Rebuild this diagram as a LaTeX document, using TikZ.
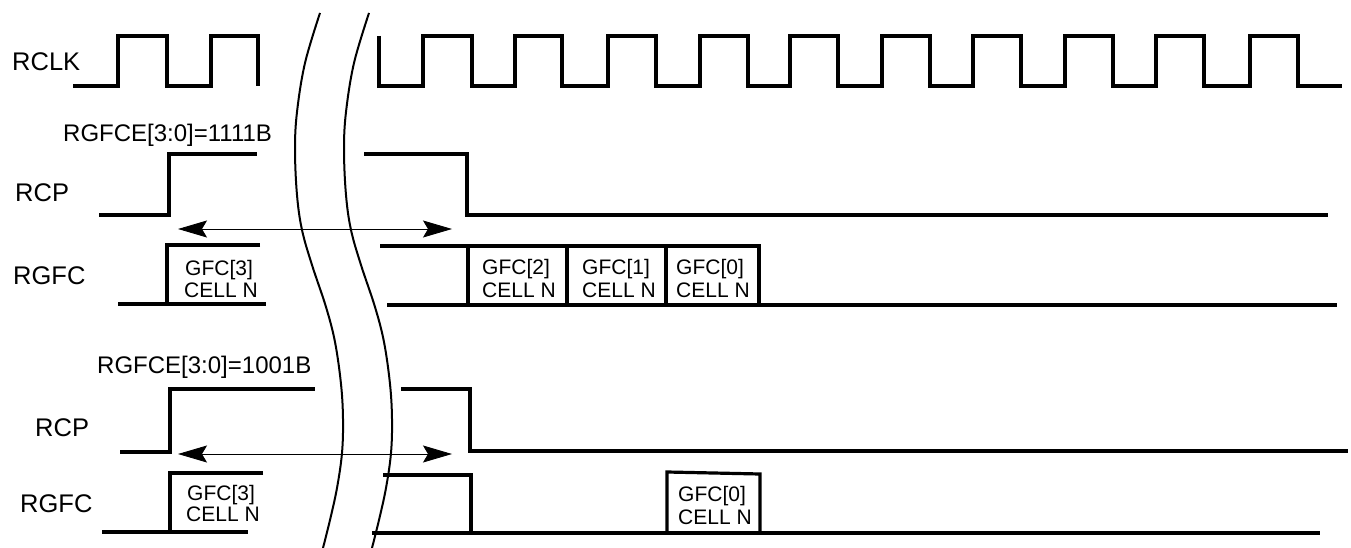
\documentclass[tikz,border=0pt]{standalone}
\usepackage{fontspec}
\setmainfont{Liberation Sans}
\usetikzlibrary{arrows.meta}
\begin{document}
\begin{tikzpicture}[x=1pt,y=-1pt,
  wave/.style={line width=3.2pt, line join=miter},
  brk/.style={line width=2pt},
  span/.style={line width=0.9pt, {Stealth[length=29pt,width=17pt,inset=5pt]}-{Stealth[length=29pt,width=17pt,inset=5pt]}},
  sig/.style={anchor=base west, inner sep=0pt, font=\fontsize{25.5}{30}\selectfont},
  cfg/.style={anchor=base west, inner sep=0pt, font=\fontsize{24}{28}\selectfont},
  cell/.style={anchor=base west, inner sep=0pt, font=\fontsize{21}{23}\selectfont},
]
\useasboundingbox (0,0) rectangle (1351,548);

% ---------- labels ----------
\node[sig] (rclk) at (12,71) {RCLK};
\node[cfg] (cfg1) at (63,142) {RGFCE[3:0]=1111B};
\node[sig] (rcp1) at (15,201) {RCP};
\node[sig] (rgfc1) at (13,284) {RGFC};
\node[cfg] (cfg2) at (97,373) {RGFCE[3:0]=1001B};
\node[sig] (rcp2) at (35,436) {RCP};
\node[sig] (rgfc2) at (20,512) {RGFC};

% ---------- RCLK ----------
\draw[wave] (73,86) -- (118,86) -- (118,36) -- (167,36) -- (167,86) -- (211,86) -- (211,36) -- (258,36) -- (258,86);
\draw[wave] (379,36) -- (379,86)
  -- (423,86) -- (423,36) -- (472,36) -- (472,86)
  -- (515,86) -- (515,36) -- (562,36) -- (562,86)
  -- (608,86) -- (608,36) -- (656,36) -- (656,86)
  -- (700,86) -- (700,36) -- (748,36) -- (748,86)
  -- (790,86) -- (790,36) -- (838,36) -- (838,86)
  -- (882,86) -- (882,36) -- (930,36) -- (930,86)
  -- (973,86) -- (973,36) -- (1021,36) -- (1021,86)
  -- (1065,86) -- (1065,36) -- (1113,36) -- (1113,86)
  -- (1156,86) -- (1156,36) -- (1204,36) -- (1204,86)
  -- (1250,86) -- (1250,36) -- (1298,36) -- (1298,86)
  -- (1342,86);

% ---------- RCP (1111B) ----------
\draw[wave] (99,215) -- (169,215) -- (169,154) -- (257,154);
\draw[wave] (364,154) -- (467,154) -- (467,215) -- (1328,215);

% ---------- span arrow 1 ----------
\coordinate (a1l) at (178,229);
\coordinate (a1r) at (452,229);
\draw[span] (a1l) -- (a1r);

% ---------- RGFC (1111B) ----------
\draw[wave] (260,245) -- (167,245) -- (167,304);
\draw[wave] (118,304) -- (266,304);
\draw[wave] (380,246) -- (759,246) -- (759,305);
\draw[wave] (468,246) -- (468,305);
\draw[wave] (567,246) -- (567,305);
\draw[wave] (666,246) -- (666,305);
\draw[wave] (387,305) -- (1337,305);
\node[cell] (g3a) at (185,275) {GFC[3]};
\node[cell] (c3a) at (184,297) {CELL N};
\node[cell] (g2a) at (482,274) {GFC[2]};
\node[cell] (c2a) at (482,297) {CELL N};
\node[cell] (g1a) at (582,274) {GFC[1]};
\node[cell] (c1a) at (582,297) {CELL N};
\node[cell] (g0a) at (676,274) {GFC[0]};
\node[cell] (c0a) at (676,297) {CELL N};

% ---------- RCP (1001B) ----------
\draw[wave] (120,452) -- (170,452) -- (170,389) -- (315,389);
\draw[wave] (401,389) -- (470,389) -- (470,451) -- (1348,451);

% ---------- span arrow 2 ----------
\coordinate (a2l) at (178,454);
\coordinate (a2r) at (452,454);
\draw[span] (a2l) -- (a2r);

% ---------- RGFC (1001B) ----------
\draw[wave] (263,473) -- (170,473) -- (170,532);
\draw[wave] (102,532) -- (248,532);
\draw[wave] (383,475) -- (471,475) -- (471,533);
\draw[wave] (372,533) -- (1320,533);
\draw[wave] (667,533) -- (667,472) -- (760,474) -- (760,533);
\node[cell] (g3b) at (187,500) {GFC[3]};
\node[cell] (c3b) at (186,521) {CELL N};
\node[cell] (g0b) at (678,501) {GFC[0]};
\node[cell] (c0b) at (678,524) {CELL N};

% ---------- break marks ----------
\foreach \dx in {0,49}{
  \draw[brk, xshift=\dx pt] plot[smooth, tension=0.6] coordinates
    {(320,13) (305,63) (297,112) (295,150) (297,195) (302,230) (312,265) (326,307) (335,342) (341,384) (343,419) (342,453) (337,488) (330,520) (323,548)};
}
\end{tikzpicture}
\end{document}
